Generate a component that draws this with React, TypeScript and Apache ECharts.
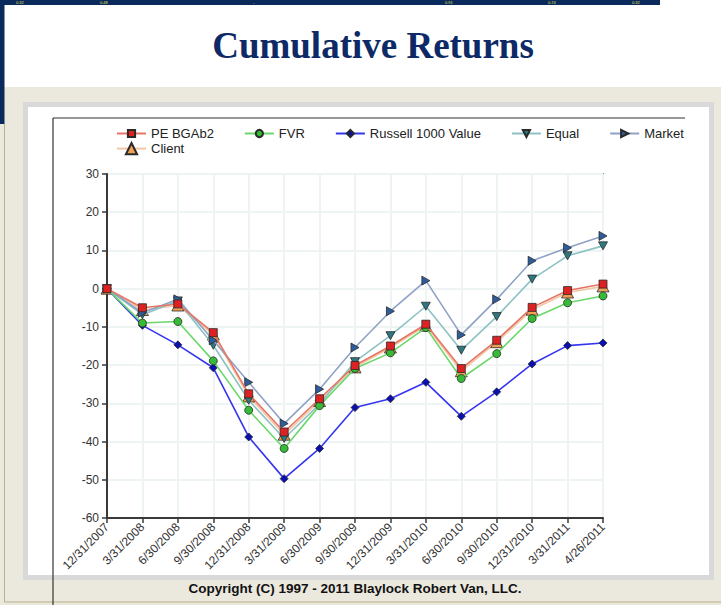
import React, { useEffect, useRef } from "react";
import * as echarts from "echarts";

const categories = [
  "12/31/2007", "3/31/2008", "6/30/2008", "9/30/2008", "12/31/2008",
  "3/31/2009", "6/30/2009", "9/30/2009", "12/31/2009", "3/31/2010",
  "6/30/2010", "9/30/2010", "12/31/2010", "3/31/2011", "4/26/2011",
];

const peBGAb2 = [0, -5, -4, -11.5, -27.5, -37.5, -28.8, -20.1, -15, -9.3, -20.9, -13.5, -4.9, -0.5, 1.2];
const client = [0, -5.6, -4.4, -12, -28.2, -38.2, -29.4, -20.6, -15.4, -9.7, -21.6, -14, -5.5, -1, 0.6];
const fvr = [0, -9, -8.6, -18.9, -31.8, -41.8, -30.6, -20.9, -16.8, -10.2, -23.5, -17, -7.8, -3.7, -1.9];
const russell1000Value = [0, -9.6, -14.7, -20.7, -38.8, -49.7, -41.8, -31.1, -28.8, -24.5, -33.4, -27, -19.7, -14.9, -14.2];
const equal = [0, -6.8, -3.2, -14.8, -29.2, -39.2, -30.2, -19.1, -12.3, -4.6, -16.1, -7.3, 2.5, 8.6, 11.2];
const market = [0, -6.3, -2.8, -13.5, -24.5, -35.3, -26.3, -15.4, -5.9, 2.1, -12.1, -2.8, 7.3, 10.7, 13.8];

const yMin = -60;
const yMax = 30;
const yStep = 10;

const title = "Cumulative Returns";
const copyright = "Copyright (C) 1997 - 2011 Blaylock Robert Van, LLC.";
const topStripLabels = ["0.32", "0.48", "-", "0.91", "0.74", "0.32"];
const topStripX = [16, 100, 253, 445, 548, 632];

const SANS = "Liberation Sans, Arial, Helvetica, sans-serif";

export default function App() {
  const ref = useRef<HTMLDivElement>(null);

  useEffect(() => {
    if (!ref.current) return;
    const chart = echarts.init(ref.current, undefined, { renderer: "svg" });

    const mk = (
      name: string,
      data: number[],
      lineColor: string,
      fill: string,
      symbol: string,
      size: number | number[],
      rotate = 0,
      z = 2
    ) => ({
      name,
      type: "line",
      data,
      z,
      symbol,
      symbolSize: size,
      symbolRotate: rotate,
      showAllSymbol: true,
      lineStyle: { color: lineColor, width: 1.6 },
      itemStyle: { color: fill, borderColor: "#2a2a2a", borderWidth: 0.8 },
      emphasis: { disabled: true },
    });

    const option: any = {
      animation: false,
      backgroundColor: "#ffffff",
      textStyle: { fontFamily: SANS },
      graphic: [
        { type: "rect", z: -10, shape: { x: 0, y: 87, width: 721, height: 518 }, style: { fill: "#ebe8de" } },
        { type: "rect", z: -9, shape: { x: 0, y: 0, width: 660, height: 5 }, style: { fill: "#0b2a5c" } },
        { type: "rect", z: -9, shape: { x: 0, y: 0, width: 4.5, height: 124 }, style: { fill: "#0b2a5c" } },
        { type: "line", z: -9, shape: { x1: 4.5, y1: 124, x2: 4.5, y2: 602 }, style: { stroke: "#b9b08c", lineWidth: 1 } },
        { type: "line", z: -9, shape: { x1: 4.5, y1: 602, x2: 721, y2: 602 }, style: { stroke: "#b9b08c", lineWidth: 1 } },
        ...topStripLabels.map((t, i) => ({
          type: "text",
          z: -8,
          x: topStripX[i],
          y: 0.5,
          style: { text: t, fill: "#e6e04a", font: `4px ${SANS}`, textVerticalAlign: "top" },
        })),
        {
          type: "text",
          x: 373,
          y: 45,
          style: {
            text: title,
            fill: "#0d2a66",
            font: "bold 37px 'Liberation Serif', 'Times New Roman', serif",
            textAlign: "center",
            textVerticalAlign: "middle",
          },
        },
        { type: "rect", z: -8, shape: { x: 23, y: 102, width: 691, height: 478 }, style: { fill: "#d9d9d9" } },
        { type: "rect", z: -7, shape: { x: 28, y: 107, width: 681, height: 468 }, style: { fill: "#ffffff" } },
        { type: "line", z: -6, shape: { x1: 53, y1: 118, x2: 685, y2: 118 }, style: { stroke: "#333333", lineWidth: 1.2 } },
        { type: "line", z: -6, shape: { x1: 53, y1: 118, x2: 53, y2: 605 }, style: { stroke: "#333333", lineWidth: 1.2 } },
        {
          type: "text",
          x: 355,
          y: 588,
          style: {
            text: copyright,
            fill: "#111111",
            font: `bold 13.5px ${SANS}`,
            textAlign: "center",
            textVerticalAlign: "middle",
          },
        },
      ],
      legend: [
        {
          left: 111,
          top: 122,
          itemWidth: 29,
          itemHeight: 9,
          itemGap: 30,
          selectedMode: false,
          textStyle: { fontSize: 13, color: "#222", fontFamily: SANS },
          data: ["PE BGAb2", "FVR", "Russell 1000 Value", "Equal", "Market"],
        },
        {
          left: 111,
          top: 137,
          itemWidth: 29,
          itemHeight: 14,
          selectedMode: false,
          textStyle: { fontSize: 13, color: "#222", fontFamily: SANS },
          data: ["Client"],
        },
      ],
      grid: {
        left: 107,
        top: 174,
        right: 118,
        bottom: 87,
        show: true,
        borderColor: "#3a3a3a",
        borderWidth: 1.5,
        backgroundColor: "transparent",
      },
      xAxis: {
        type: "category",
        data: categories,
        boundaryGap: false,
        axisLine: { show: true, onZero: false, lineStyle: { color: "#3a3a3a", width: 2 } },
        axisTick: { show: true, length: 5, alignWithLabel: true, lineStyle: { color: "#3a3a3a", width: 1.5 } },
        axisLabel: { rotate: 45, fontSize: 12, color: "#333", fontFamily: SANS, margin: 7, interval: 0 },
        splitLine: { show: true, lineStyle: { color: "#eef3f3", width: 2 } },
      },
      yAxis: {
        type: "value",
        min: yMin,
        max: yMax,
        interval: yStep,
        axisLine: { show: true, lineStyle: { color: "#3a3a3a", width: 2 } },
        axisTick: { show: true, length: 5, lineStyle: { color: "#3a3a3a", width: 1.5 } },
        axisLabel: { fontSize: 12, color: "#333", fontFamily: SANS, margin: 8 },
        splitLine: { show: true, lineStyle: { color: "#eef3f3", width: 2 } },
      },
      series: [
        mk("Client", client, "#f3c6a6", "#f2a155", "triangle", [12, 11], 0, 2),
        mk("Russell 1000 Value", russell1000Value, "#3535f0", "#0a10b0", "diamond", 8, 0, 3),
        mk("Equal", equal, "#8cc2c2", "#2f7880", "triangle", [9, 8], 180, 4),
        mk("Market", market, "#8ea2c6", "#2d5d9c", "triangle", [9, 8], -90, 5),
        mk("FVR", fvr, "#6ad86a", "#36bb36", "circle", 8, 0, 6),
        mk("PE BGAb2", peBGAb2, "#e57565", "#dc2222", "rect", 8, 0, 7),
      ],
    };

    chart.setOption(option);
    return () => chart.dispose();
  }, []);

  return (
    <div
      ref={ref}
      style={{ position: "absolute", left: 0, top: 0, width: 721, height: 605 }}
    />
  );
}
